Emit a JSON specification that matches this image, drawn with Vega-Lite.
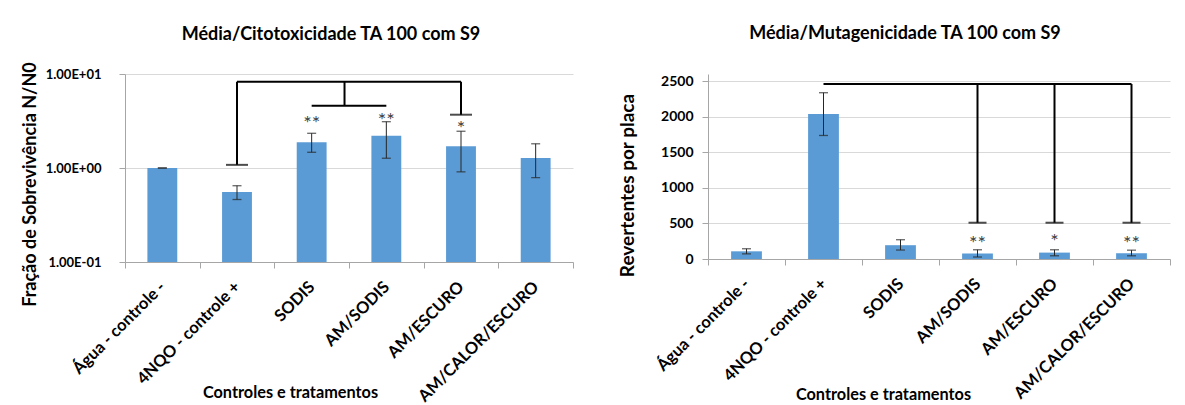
{
  "$schema": "https://vega.github.io/schema/vega-lite/v6.json",
  "background": "white",
  "padding": {"left": 21, "top": 25, "right": 5, "bottom": 5},
  "bounds": "flush",
  "spacing": 135,
  "datasets": {
    "left": [
      {"grupo": "Água - controle -", "media": 1.0, "lo": 1.0, "hi": 1.0, "star": "", "ys": null},
      {"grupo": "4NQO - controle +", "media": 0.556, "lo": 0.462, "hi": 0.648, "star": "", "ys": null},
      {"grupo": "SODIS", "media": 1.88, "lo": 1.47, "hi": 2.34, "star": "**", "ys": 3.35},
      {"grupo": "AM/SODIS", "media": 2.21, "lo": 1.27, "hi": 3.11, "star": "**", "ys": 3.6},
      {"grupo": "AM/ESCURO", "media": 1.70, "lo": 0.91, "hi": 2.46, "star": "*", "ys": 2.94},
      {"grupo": "AM/CALOR/ESCURO", "media": 1.28, "lo": 0.79, "hi": 1.81, "star": "", "ys": null}
    ],
    "right": [
      {"grupo": "Água - controle -", "media": 108, "lo": 72, "hi": 144, "star": "", "ys": null},
      {"grupo": "4NQO - controle +", "media": 2039, "lo": 1736, "hi": 2337, "star": "", "ys": null},
      {"grupo": "SODIS", "media": 194, "lo": 126, "hi": 271, "star": "", "ys": null},
      {"grupo": "AM/SODIS", "media": 78, "lo": 28, "hi": 130, "star": "**", "ys": 285},
      {"grupo": "AM/ESCURO", "media": 90, "lo": 45, "hi": 130, "star": "*", "ys": 316},
      {"grupo": "AM/CALOR/ESCURO", "media": 81, "lo": 45, "hi": 124, "star": "**", "ys": 275}
    ],
    "leftBr": [
      {"kind": "h", "a": "4NQO - controle +", "b": "AM/ESCURO", "y": 8.28, "y2": null},
      {"kind": "h", "a": "SODIS", "b": "AM/SODIS", "y": 4.6, "y2": null},
      {"kind": "v", "a": "4NQO - controle +", "b": null, "y": 8.28, "y2": 1.08},
      {"kind": "v", "a": "AM/ESCURO", "b": null, "y": 8.28, "y2": 3.69},
      {"kind": "m", "a": "SODIS", "b": null, "y": 8.28, "y2": 4.6},
      {"kind": "c", "a": "4NQO - controle +", "b": null, "y": 1.08, "y2": null},
      {"kind": "c", "a": "AM/ESCURO", "b": null, "y": 3.69, "y2": null}
    ],
    "rightBr": [
      {"kind": "h", "a": "4NQO - controle +", "b": "AM/CALOR/ESCURO", "y": 2459, "y2": null},
      {"kind": "v", "a": "AM/SODIS", "b": null, "y": 2459, "y2": 510},
      {"kind": "v", "a": "AM/ESCURO", "b": null, "y": 2459, "y2": 510},
      {"kind": "v", "a": "AM/CALOR/ESCURO", "b": null, "y": 2459, "y2": 510},
      {"kind": "c", "a": "AM/SODIS", "b": null, "y": 510, "y2": null},
      {"kind": "c", "a": "AM/ESCURO", "b": null, "y": 510, "y2": null},
      {"kind": "c", "a": "AM/CALOR/ESCURO", "b": null, "y": 510, "y2": null}
    ]
  },
  "hconcat": [
    {
      "width": 448,
      "height": 188,
      "title": {"text": "Média/Citotoxicidade TA 100 com S9", "fontSize": 18, "fontWeight": "bold", "font": "Lato", "color": "#000000", "anchor": "middle", "frame": "group", "dx": -18, "offset": 17.5},
      "layer": [
        {
          "data": {"name": "left"},
          "mark": {"type": "bar", "color": "#5B9BD5", "width": {"band": 0.4}},
          "encoding": {
            "x": {"field": "grupo", "type": "nominal", "sort": null,
              "scale": {"domain": ["Água - controle -", "4NQO - controle +", "SODIS", "AM/SODIS", "AM/ESCURO", "AM/CALOR/ESCURO"], "paddingInner": 0, "paddingOuter": 0},
              "axis": {"title": "Controles e tratamentos", "titleFontSize": 16.3, "titleX": 165, "titleY": 135.5, "titleBaseline": "alphabetic",
                "labelAngle": -45, "labelAlign": "right", "labelBaseline": "middle", "labelFontSize": 16.5, "labelPadding": 16, "labelOverlap": false, "tickBand": "extent", "tickSize": 6}},
            "y": {"field": "media", "type": "quantitative",
              "scale": {"type": "log", "domain": [0.1, 10]},
              "axis": {"title": "Fração de Sobrevivência N/N0", "titleFontSize": 18, "titlePadding": 6, "titleY": 110,
                "values": [0.1, 1, 10], "labelExpr": "replace(replace(upper(format(datum.value, '.2e')), '+', '+0'), '-', '-0')",
                "labelFontSize": 13, "labelPadding": 18, "labelOverlap": false, "tickSize": 6, "grid": true}},
            "y2": {"datum": 0.1}
          }
        },
        {
          "data": {"name": "left"},
          "mark": {"type": "errorbar", "color": "#262626", "ticks": {"size": 9, "thickness": 1.3}, "rule": {"strokeWidth": 1}},
          "encoding": {
            "x": {"field": "grupo", "type": "nominal", "title": "Controles e tratamentos"},
            "y": {"field": "lo", "type": "quantitative", "title": "Fração de Sobrevivência N/N0"},
            "y2": {"field": "hi"}
          }
        },
        {
          "data": {"name": "left"},
          "transform": [{"filter": "datum.star != ''"}],
          "mark": {"type": "text", "fontSize": 20, "color": "#404040", "baseline": "middle", "dy": 5, "font": "Lato"},
          "encoding": {
            "x": {"field": "grupo", "type": "nominal"},
            "y": {"field": "ys", "type": "quantitative"},
            "text": {"field": "star"}
          }
        },
        {
          "data": {"name": "leftBr"},
          "transform": [{"filter": "datum.kind == 'h'"}],
          "mark": {"type": "rule", "color": "#000000", "strokeWidth": 2},
          "encoding": {
            "x": {"field": "a", "type": "nominal"},
            "x2": {"field": "b"},
            "y": {"field": "y", "type": "quantitative"}
          }
        },
        {
          "data": {"name": "leftBr"},
          "transform": [{"filter": "datum.kind == 'v'"}],
          "mark": {"type": "rule", "color": "#000000", "strokeWidth": 2},
          "encoding": {
            "x": {"field": "a", "type": "nominal"},
            "y": {"field": "y", "type": "quantitative"},
            "y2": {"field": "y2"}
          }
        },
        {
          "data": {"name": "leftBr"},
          "transform": [{"filter": "datum.kind == 'm'"}],
          "mark": {"type": "rule", "color": "#000000", "strokeWidth": 2},
          "encoding": {
            "x": {"field": "a", "type": "nominal", "bandPosition": 0.94},
            "y": {"field": "y", "type": "quantitative"},
            "y2": {"field": "y2"}
          }
        },
        {
          "data": {"name": "leftBr"},
          "transform": [{"filter": "datum.kind == 'c'"}],
          "mark": {"type": "tick", "color": "#000000", "size": 22, "thickness": 2, "orient": "horizontal"},
          "encoding": {
            "x": {"field": "a", "type": "nominal"},
            "y": {"field": "y", "type": "quantitative"}
          }
        }
      ]
    },
    {
      "width": 462,
      "height": 185,
      "title": {"text": "Média/Mutagenicidade TA 100 com S9", "fontSize": 18, "fontWeight": "bold", "font": "Lato", "color": "#000000", "anchor": "middle", "frame": "group", "dx": -34, "offset": 31},
      "layer": [
        {
          "data": {"name": "right"},
          "mark": {"type": "bar", "color": "#5B9BD5", "width": {"band": 0.4}},
          "encoding": {
            "x": {"field": "grupo", "type": "nominal", "sort": null,
              "scale": {"domain": ["Água - controle -", "4NQO - controle +", "SODIS", "AM/SODIS", "AM/ESCURO", "AM/CALOR/ESCURO"], "paddingInner": 0, "paddingOuter": 0},
              "axis": {"title": "Controles e tratamentos", "titleFontSize": 16.3, "titleX": 175, "titleY": 140, "titleBaseline": "alphabetic",
                "labelAngle": -45, "labelAlign": "right", "labelBaseline": "middle", "labelFontSize": 16.5, "labelPadding": 16, "labelOverlap": false, "tickBand": "extent", "tickSize": 6}},
            "y": {"field": "media", "type": "quantitative",
              "scale": {"domain": [0, 2500]},
              "axis": {"title": "Revertentes por placa", "titleFontSize": 19, "titlePadding": 23.5, "titleY": 111,
                "values": [0, 500, 1000, 1500, 2000, 2500], "tickCount": 6, "format": "d",
                "labelFontSize": 14, "labelPadding": 9, "labelOverlap": false, "tickSize": 6, "grid": true}}
          }
        },
        {
          "data": {"name": "right"},
          "mark": {"type": "errorbar", "color": "#262626", "ticks": {"size": 9, "thickness": 1.3}, "rule": {"strokeWidth": 1}},
          "encoding": {
            "x": {"field": "grupo", "type": "nominal", "title": "Controles e tratamentos"},
            "y": {"field": "lo", "type": "quantitative", "title": "Revertentes por placa",
              "axis": {"title": "Revertentes por placa", "titleFontSize": 19, "titlePadding": 23.5, "titleY": 111,
                "values": [0, 500, 1000, 1500, 2000, 2500], "tickCount": 6, "format": "d",
                "labelFontSize": 14, "labelPadding": 9, "labelOverlap": false, "tickSize": 6, "grid": true}},
            "y2": {"field": "hi"}
          }
        },
        {
          "data": {"name": "right"},
          "transform": [{"filter": "datum.star != ''"}],
          "mark": {"type": "text", "fontSize": 20, "color": "#404040", "baseline": "middle", "dy": 5, "font": "Lato"},
          "encoding": {
            "x": {"field": "grupo", "type": "nominal"},
            "y": {"field": "ys", "type": "quantitative"},
            "text": {"field": "star"}
          }
        },
        {
          "data": {"name": "rightBr"},
          "transform": [{"filter": "datum.kind == 'h'"}],
          "mark": {"type": "rule", "color": "#000000", "strokeWidth": 2},
          "encoding": {
            "x": {"field": "a", "type": "nominal"},
            "x2": {"field": "b"},
            "y": {"field": "y", "type": "quantitative"}
          }
        },
        {
          "data": {"name": "rightBr"},
          "transform": [{"filter": "datum.kind == 'v'"}],
          "mark": {"type": "rule", "color": "#000000", "strokeWidth": 2},
          "encoding": {
            "x": {"field": "a", "type": "nominal"},
            "y": {"field": "y", "type": "quantitative"},
            "y2": {"field": "y2"}
          }
        },
        {
          "data": {"name": "rightBr"},
          "transform": [{"filter": "datum.kind == 'c'"}],
          "mark": {"type": "tick", "color": "#000000", "size": 18, "thickness": 2, "orient": "horizontal"},
          "encoding": {
            "x": {"field": "a", "type": "nominal"},
            "y": {"field": "y", "type": "quantitative"}
          }
        }
      ]
    }
  ],
  "config": {
    "font": "Lato",
    "view": {"stroke": null},
    "axis": {
      "labelFont": "Lato", "labelFontWeight": "bold", "labelColor": "#000000",
      "titleFont": "Lato", "titleFontWeight": "bold", "titleColor": "#000000",
      "domainColor": "#a6a6a6", "tickColor": "#a6a6a6", "gridColor": "#d9d9d9"
    }
  }
}
